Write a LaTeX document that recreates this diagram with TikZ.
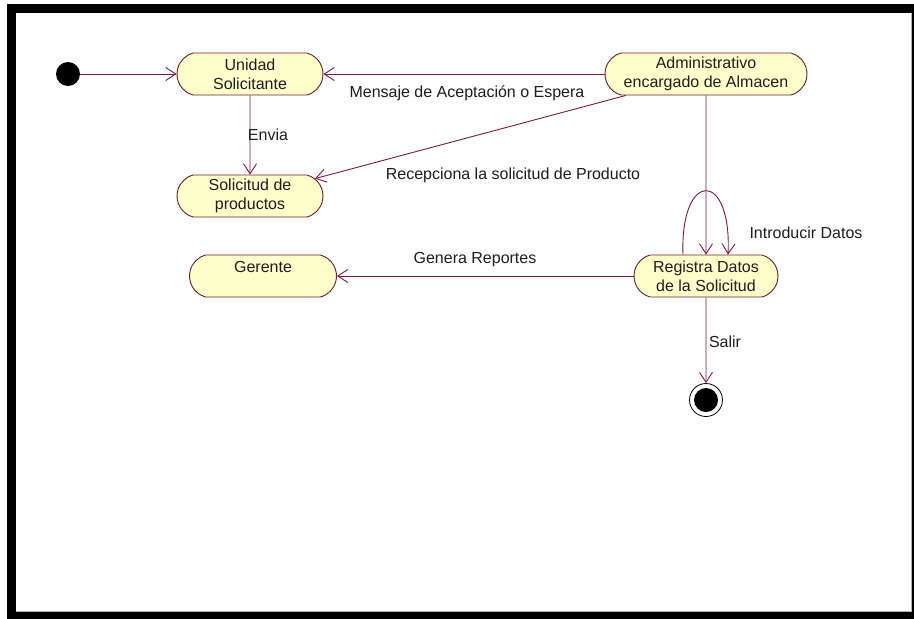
\documentclass[tikz,border=0pt]{standalone}
\usepackage{fontspec}
\setmainfont{Liberation Sans}
\usetikzlibrary{arrows.meta,shapes.misc,calc}
\definecolor{edgecol}{RGB}{128,24,72}
\definecolor{nodeborder}{RGB}{112,32,44}
\definecolor{nodefill}{RGB}{255,255,204}
\definecolor{txt}{RGB}{30,30,30}

\begin{document}
\begin{tikzpicture}[x=1pt,y=-1pt,
  state/.style={rounded rectangle, rounded rectangle arc length=150,
    draw=nodeborder, line width=0.9pt, fill=nodefill, minimum height=42pt,
    inner sep=0pt, align=center, font=\fontsize{16}{19}\selectfont, text=txt},
  flow/.style={draw=edgecol, line width=0.9pt,
    -{Straight Barb[length=10pt,width=13pt]}},
  lbl/.style={font=\fontsize{16}{19}\selectfont, text=txt, inner sep=0pt}]

\useasboundingbox (0,0) rectangle (914,619);

% outer frame
\fill[black] (7,4) rectangle (914,619);
\fill[white] (16,12.5) rectangle (911,611);
\draw[gray!60, line width=0.8pt] (16,611) -- (911,611) -- (911,12.5);

% activity states
\node[state, minimum width=146pt] (uni) at (250,74) {Unidad\\Solicitante};
\node[state, minimum width=202pt] (adm) at (706,74) {Administrativo\\encargado de Almacen};
\node[state, minimum width=146pt] (sol) at (250,196) {Solicitud de\\productos};
\node[state, minimum width=147pt] (ger) at (263,276) {Gerente\\\mbox{}};
\node[state, minimum width=144pt] (reg) at (706,276) {Registra Datos\\de la Solicitud};

% initial and final states
\node[circle, fill=black, minimum size=24pt, inner sep=0pt] (ini) at (68,74) {};
\node[circle, draw=black, line width=0.8pt, minimum size=33pt, inner sep=0pt,
  path picture={\fill[black] (path picture bounding box.center) circle (12pt);}]
  (fin) at (706,400) {};

% transitions
\draw[flow] (ini) -- (uni.west);
\draw[flow] (adm.west) -- (uni.east);
\draw[flow] (uni) -- (sol);
\draw[flow] (adm) -- (sol);
\draw[flow] (adm) -- (reg);
\draw[flow] ($(reg.north)+(-23,0)$) .. controls ($(reg.north)+(-26,-85)$) and ($(reg.north)+(26,-85)$) .. ($(reg.north)+(22,0)$);
\draw[flow] (reg.west) -- (ger.east);
\draw[flow] (reg) -- (fin);

% transition labels
\node[lbl] (lmsg) at (467,93) {Mensaje de Aceptación o Espera};
\node[lbl] (lenv) at (268,135) {Envia};
\node[lbl] (lrec) at (513,175) {Recepciona la solicitud de Producto};
\node[lbl] (lgen) at (475,260) {Genera Reportes};
\node[lbl] (lint) at (806,233) {Introducir Datos};
\node[lbl] (lsal) at (725,342) {Salir};
\end{tikzpicture}
\end{document}
